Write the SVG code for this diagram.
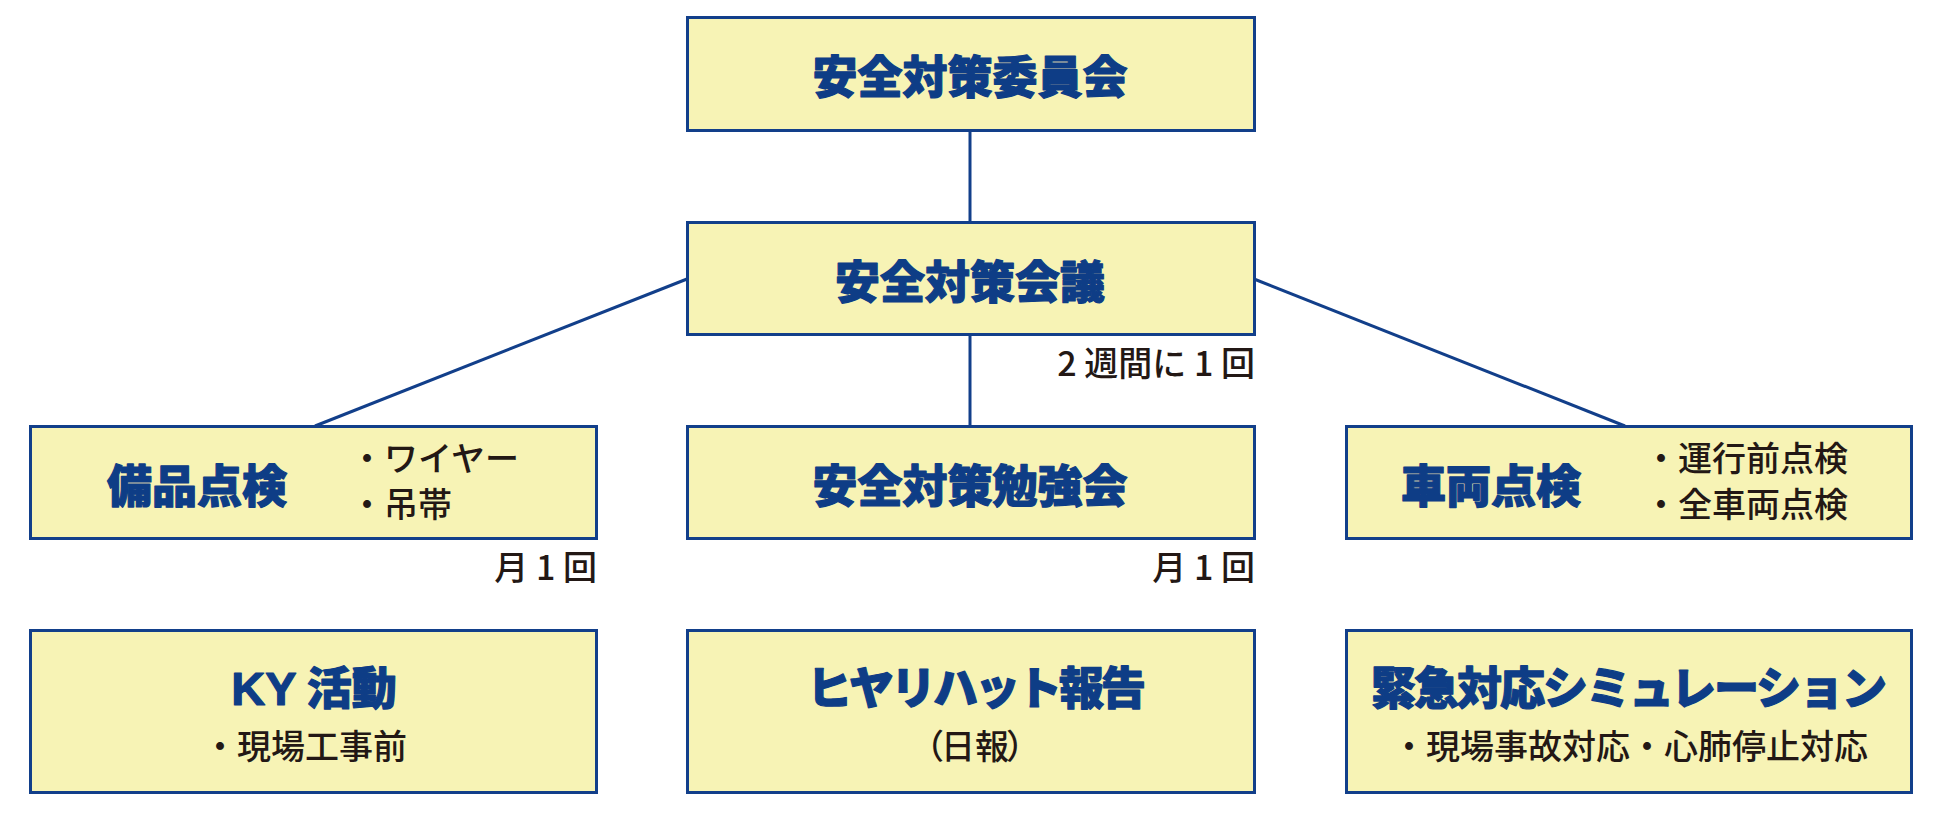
<svg xmlns="http://www.w3.org/2000/svg" width="1945" height="814" viewBox="0 0 1945 814">
<style>
.box{fill:#f7f3b5;stroke:#123f8a;stroke-width:3}
.conn line{stroke:#123f8a;stroke-width:3}
.t{font-family:"Noto Sans CJK JP","Noto Sans CJK SC",sans-serif;font-weight:900;font-size:45px;fill:#0e3d86;stroke:#0e3d86;stroke-width:1.2;stroke-linejoin:round;text-anchor:middle}
.s{font-family:"Noto Sans CJK JP","Noto Sans CJK SC",sans-serif;font-weight:500;font-size:34px;fill:#231815}
.m{text-anchor:middle}
.e{text-anchor:end}
</style>
<rect width="1945" height="814" fill="#ffffff"/>
<g id="connectors" class="conn">
<line x1="970" y1="131" x2="970" y2="223"/>
<line x1="970" y1="335" x2="970" y2="427"/>
<line x1="687" y1="279" x2="315" y2="426"/>
<line x1="1254" y1="279" x2="1625" y2="426"/>
</g>
<g id="iinkai">
<rect class="box" x="687.5" y="17.5" width="567" height="113"/>
<text class="t" x="970" y="94">安全対策委員会</text>
</g>
<g id="kaigi">
<rect class="box" x="687.5" y="222.5" width="567" height="112"/>
<text class="t" x="970" y="299">安全対策会議</text>
<text class="s e" x="1255" y="376">2 週間に 1 回</text>
</g>
<g id="bihin">
<rect class="box" x="30.5" y="426.5" width="566" height="112"/>
<text class="t" x="197" y="503">備品点検</text>
<text class="s" x="350" y="471">・ワイヤー</text>
<text class="s" x="350" y="517">・吊帯</text>
<text class="s e" x="597" y="580">月 1 回</text>
</g>
<g id="benkyokai">
<rect class="box" x="687.5" y="426.5" width="567" height="112"/>
<text class="t" x="970" y="503">安全対策勉強会</text>
<text class="s e" x="1255" y="580">月 1 回</text>
</g>
<g id="sharyo">
<rect class="box" x="1346.5" y="426.5" width="565" height="112"/>
<text class="t" x="1491" y="503">車両点検</text>
<text class="s" x="1644" y="471">・運行前点検</text>
<text class="s" x="1644" y="517">・全車両点検</text>
</g>
<g id="ky">
<rect class="box" x="30.5" y="630.5" width="566" height="162"/>
<text class="t" x="314" y="705"><tspan font-family="'Liberation Sans',Arial,sans-serif" font-weight="700" font-size="47">KY</tspan> 活動</text>
<text class="s m" x="305" y="759">・現場工事前</text>
</g>
<g id="hiyari">
<rect class="box" x="687.5" y="630.5" width="567" height="162"/>
<text class="t" x="975" y="705" letter-spacing="-3">ヒヤリハット報告</text>
<text class="s m" x="975" y="759" dx="0 -3 0 -3">（日報）</text>
</g>
<g id="kinkyu">
<rect class="box" x="1346.5" y="630.5" width="565" height="162"/>
<text class="t" x="1628" y="705" letter-spacing="-2">緊急対応シミュレーション</text>
<text class="s m" x="1630" y="759">・現場事故対応・心肺停止対応</text>
</g>
</svg>
